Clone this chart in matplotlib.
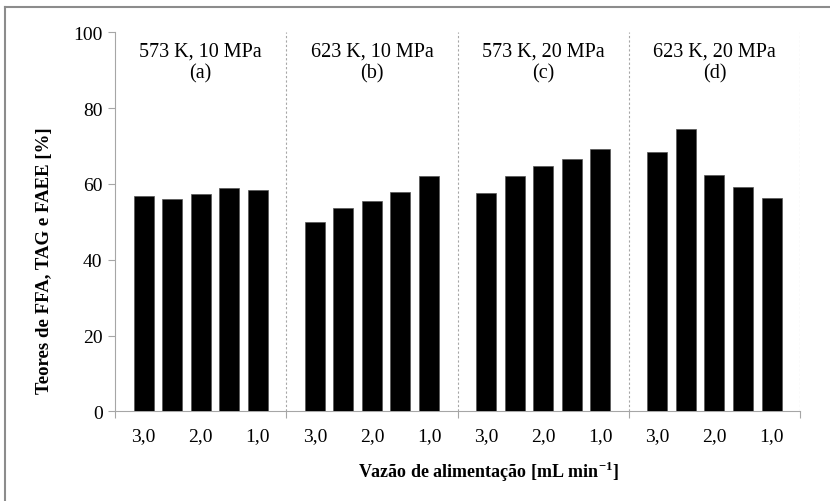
import matplotlib
matplotlib.use('Agg')
import matplotlib.pyplot as plt
from matplotlib.lines import Line2D

plt.rcParams['font.family'] = ['Liberation Serif', 'DejaVu Serif']
plt.rcParams['mathtext.fontset'] = 'custom'
plt.rcParams['mathtext.rm'] = 'Liberation Serif:bold'
plt.rcParams['mathtext.bf'] = 'Liberation Serif:bold'

# conditions (groups) and flow rates
groups = ['573 K, 10 MPa\n(a)', '623 K, 10 MPa\n(b)', '573 K, 20 MPa\n(c)', '623 K, 20 MPa\n(d)']
tick_labels = ['3,0', '', '2,0', '', '1,0']

# teores [%] per group, 5 flow rates each
vals_a = [56.9, 56.0, 57.2, 59.0, 58.4]
vals_b = [49.9, 53.7, 55.5, 57.8, 62.0]
vals_c = [57.5, 62.2, 64.8, 66.5, 69.2]
vals_d = [68.3, 74.5, 62.3, 59.3, 56.2]
all_vals = [vals_a, vals_b, vals_c, vals_d]

grey = '#a6a6a6'

fig = plt.figure(figsize=(8.3, 5.02), dpi=100)
ax = fig.add_axes([0.1386, 0.1783, 0.8254, 0.7557])

xs = []
labels = []
for g, vals in enumerate(all_vals):
    pos = [g * 6 + i + 1 for i in range(5)]
    ax.bar(pos, vals, width=0.7, color='black', edgecolor='#555555', linewidth=0.5, zorder=3)
    xs += pos
    labels += tick_labels
    ax.text(g * 6 + 3, 97.5, groups[g], ha='center', va='top', fontsize=14.5, linespacing=1.15)
    # dashed separator to the right of each group
    ax.axvline((g + 1) * 6, color=grey, linestyle=(0, (2, 2)), linewidth=0.8, zorder=1)

ax.set_xlim(0, 24)
ax.set_ylim(0, 100)
ax.set_yticks(range(0, 101, 20))

ax.set_xticks(xs)
ax.set_xticklabels(labels, fontsize=14)
ax.tick_params(axis='x', length=0, pad=11)
ax.set_xticks([0, 6, 12, 18, 24], minor=True)
ax.tick_params(axis='x', which='minor', length=5, color=grey, width=0.8)
ax.tick_params(axis='y', length=5, color=grey, width=0.8, labelsize=14, pad=4)

for s in ['top', 'right']:
    ax.spines[s].set_visible(False)
for s in ['left', 'bottom']:
    ax.spines[s].set_color(grey)
    ax.spines[s].set_linewidth(0.8)

ax.set_ylabel('Teores de FFA, TAG e FAEE [%]', fontsize=13.5, fontweight='bold')
ax.yaxis.set_label_coords(-0.09, 0.40)
ax.set_xlabel(r'Vazão de alimentação [mL min$^{\mathbf{-1}}$]', fontsize=13, fontweight='bold')
ax.xaxis.set_label_coords(0.545, -0.125)

# outer frame (left and top edges visible)
fig.add_artist(Line2D([0.006, 0.006], [0, 0.984], transform=fig.transFigure, color='#8c8c8c', linewidth=1.5))
fig.add_artist(Line2D([0.006, 1], [0.984, 0.984], transform=fig.transFigure, color='#8c8c8c', linewidth=1.5))

fig.savefig('out.png', dpi=100)
